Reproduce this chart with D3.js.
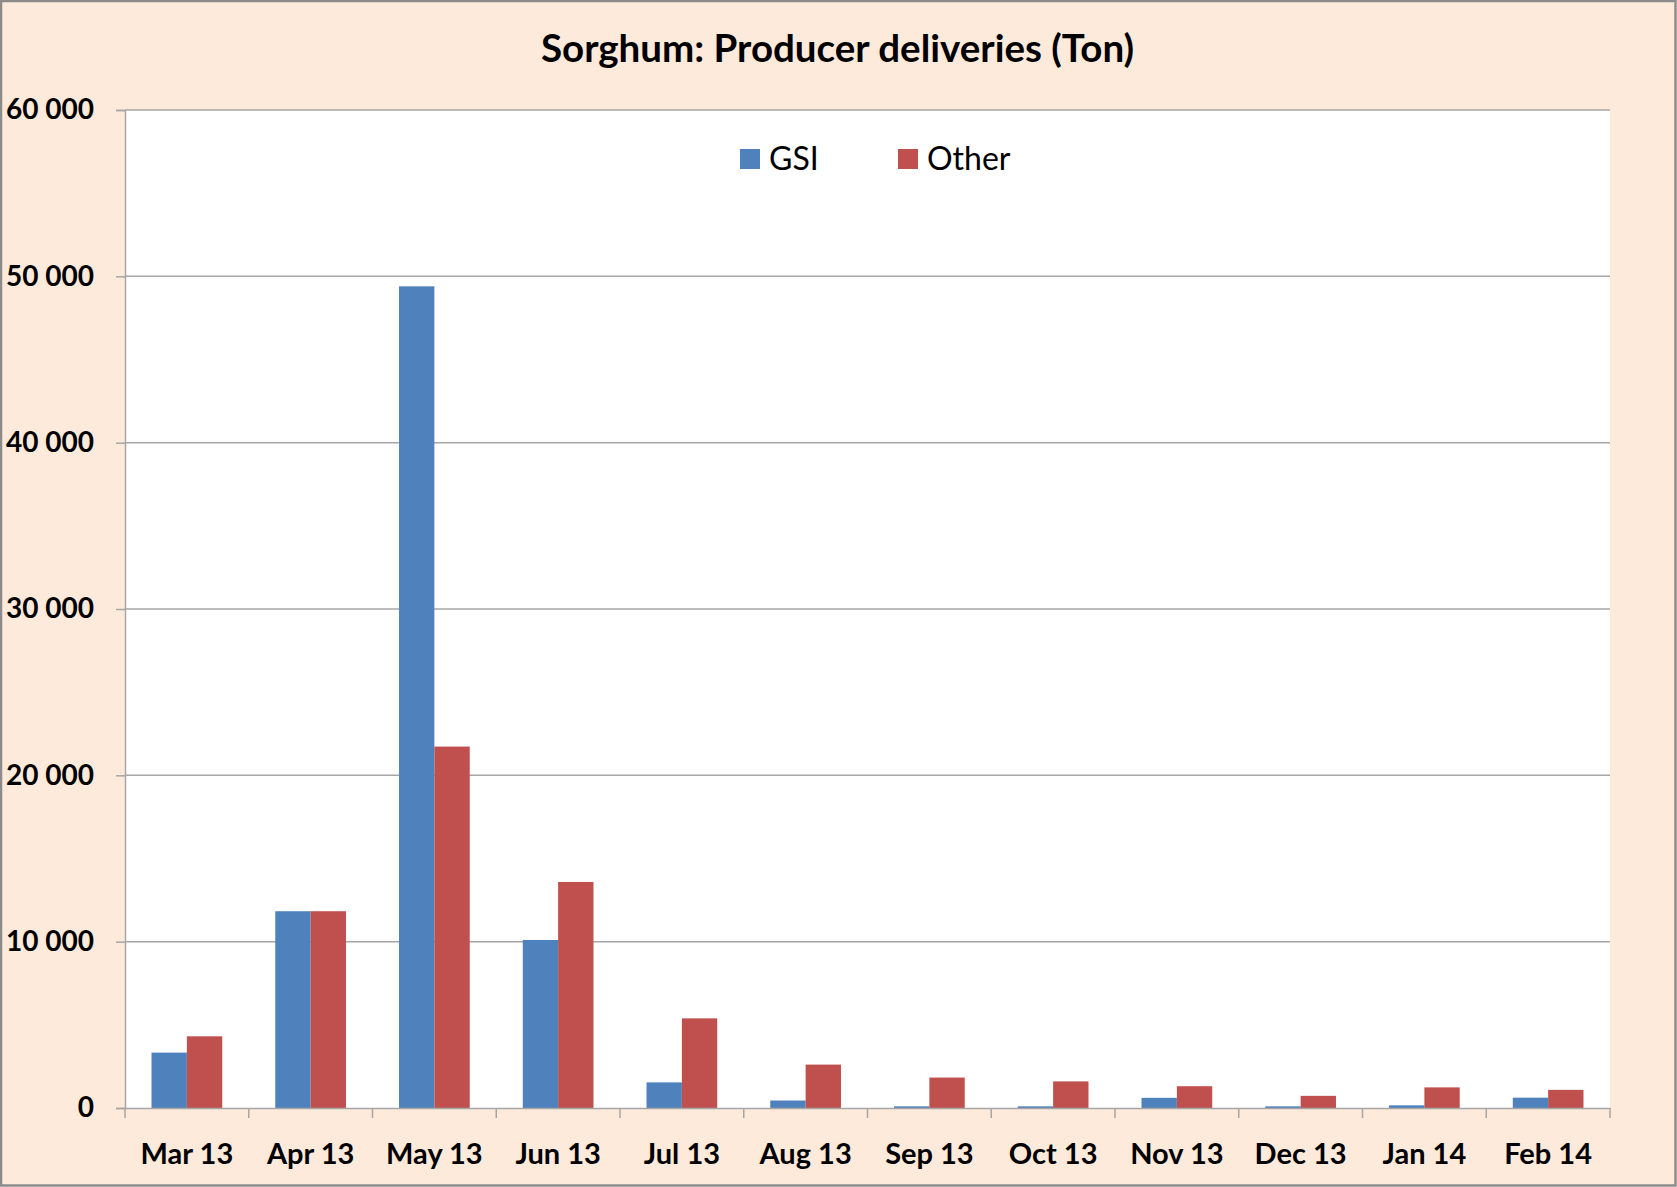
<!DOCTYPE html>
<html>
<head>
<meta charset="utf-8">
<script src="https://cdn.jsdelivr.net/npm/d3@7"></script>
<style>
  body { margin: 0; background: #fff; }
  svg { display: block; font-family: Lato, "Open Sans", sans-serif; }
</style>
</head>
<body>
<svg width="1677" height="1187"></svg>
<script>
// data
var months = ["Mar 13", "Apr 13", "May 13", "Jun 13", "Jul 13", "Aug 13",
              "Sep 13", "Oct 13", "Nov 13", "Dec 13", "Jan 14", "Feb 14"];
var seriesNames = ["GSI", "Other"];
var gsi   = [3330, 11830, 49400, 10100, 1540, 450, 100, 100, 610, 100, 160, 620];
var other = [4310, 11830, 21730, 13590, 5390, 2610, 1830, 1600, 1310, 730, 1240, 1090];
var yTicks = [0, 10000, 20000, 30000, 40000, 50000, 60000];
var colors = ["#4F81BD", "#C0504D"];

var svg = d3.select("svg"),
    W = +svg.attr("width"),
    H = +svg.attr("height"),
    margin = {top: 110, right: 67, bottom: 79, left: 125},
    width = W - margin.left - margin.right,
    height = H - margin.top - margin.bottom;

// background + frame
svg.append("rect")
  .attr("x", 1).attr("y", 1)
  .attr("width", W - 2.5).attr("height", H - 2.5)
  .attr("fill", "#FDEADA")
  .attr("stroke", "#8C8C8C")
  .attr("stroke-width", 2.5);

svg.append("text")
  .attr("x", W / 2 - 1)
  .attr("y", 62)
  .attr("text-anchor", "middle")
  .attr("font-weight", "bold")
  .attr("font-size", 38.5)
  .attr("fill", "#000")
  .text("Sorghum: Producer deliveries (Ton)");

var g = svg.append("g").attr("transform", "translate(" + margin.left + "," + margin.top + ")");

g.append("rect")
  .attr("width", width).attr("height", height)
  .attr("fill", "#fff");

var x = d3.scaleBand().domain(months).range([0, width]).padding(0);
var x1 = d3.scaleBand().domain(seriesNames).range([0, x.bandwidth()]).paddingInner(0).paddingOuter(0.75);
var y = d3.scaleLinear().domain([0, 60000]).range([height, 0]);

var fmt = d3.formatLocale({decimal: ".", thousands: " ", grouping: [3], currency: ["", ""]}).format(",");

// gridlines
g.append("g")
  .selectAll("line")
  .data(yTicks.filter(d => d > 0))
  .join("line")
    .attr("x1", 0).attr("x2", width)
    .attr("y1", d => y(d)).attr("y2", d => y(d))
    .attr("stroke", "#A6A6A6")
    .attr("stroke-width", 1.5);

// bars
var rows = months.map((m, i) => ({month: m, values: [gsi[i], other[i]]}));

g.append("g")
  .selectAll("g")
  .data(rows)
  .join("g")
    .attr("transform", d => "translate(" + x(d.month) + ",0)")
  .selectAll("rect")
  .data(d => d.values.map((v, j) => ({key: seriesNames[j], value: v, c: colors[j]})))
  .join("rect")
    .attr("x", d => x1(d.key))
    .attr("width", x1.bandwidth())
    .attr("y", d => y(d.value))
    .attr("height", d => y(0) - y(d.value))
    .attr("fill", d => d.c);

// y axis
var yAxis = g.append("g")
  .call(d3.axisLeft(y).tickValues(yTicks).tickFormat(fmt).tickSize(9).tickPadding(22));
yAxis.select(".domain").attr("stroke", "#A6A6A6").attr("stroke-width", 1.5);
yAxis.selectAll(".tick line").attr("stroke", "#A6A6A6").attr("stroke-width", 1.5);
yAxis.selectAll("text")
  .attr("font-family", "Lato, sans-serif")
  .attr("font-size", 28)
  .attr("font-weight", "bold")
  .attr("fill", "#000");

// x axis
var xAxis = g.append("g")
  .attr("transform", "translate(0," + height + ")")
  .call(d3.axisBottom(x).tickSize(0).tickPadding(35));
xAxis.select(".domain").attr("stroke", "#A6A6A6").attr("stroke-width", 1.5);
xAxis.selectAll("text")
  .attr("font-family", "Lato, sans-serif")
  .attr("font-size", 29)
  .attr("font-weight", "bold")
  .attr("fill", "#000");

// category boundary ticks
xAxis.append("g")
  .selectAll("line")
  .data(months.concat(["end"]))
  .join("line")
    .attr("x1", (d, i) => i * x.step())
    .attr("x2", (d, i) => i * x.step())
    .attr("y1", 0).attr("y2", 10)
    .attr("stroke", "#A6A6A6")
    .attr("stroke-width", 1.5);

// legend
var legendX = [740, 898];
var legend = svg.append("g")
  .selectAll("g")
  .data(seriesNames)
  .join("g")
    .attr("transform", (d, i) => "translate(" + legendX[i] + ",149)");
legend.append("rect")
  .attr("width", 20).attr("height", 20)
  .attr("fill", (d, i) => colors[i]);
legend.append("text")
  .attr("x", 29).attr("y", 21)
  .attr("font-size", 32)
  .attr("fill", "#000")
  .text(d => d);
</script>
</body>
</html>
